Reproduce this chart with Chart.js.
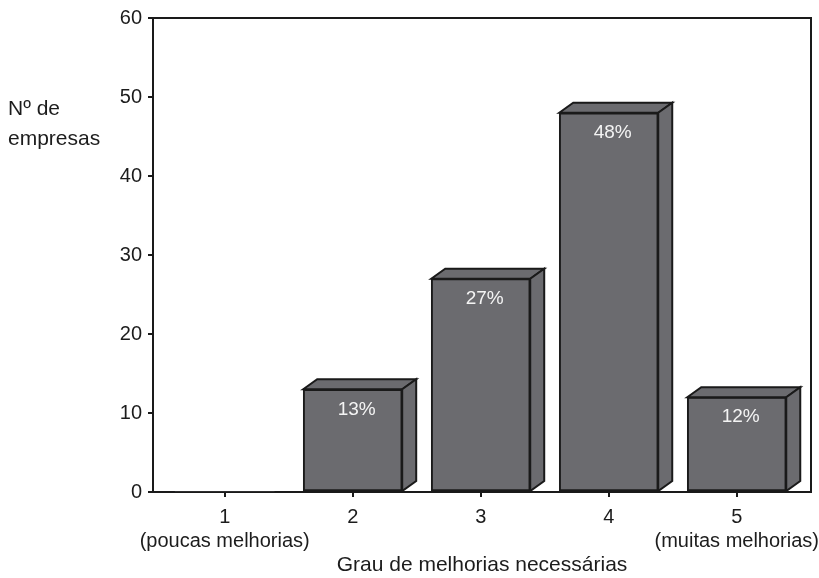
<!DOCTYPE html>
<html>
<head>
<meta charset="utf-8">
<script src="https://cdn.jsdelivr.net/npm/chart.js@4/dist/chart.umd.min.js"></script>
<style>
  html, body { margin: 0; padding: 0; background: #fff; }
  canvas { display: block; }
</style>
</head>
<body>
<canvas id="c" width="819" height="578"></canvas>
<script>
// Grau de melhorias (1..5) and the number of companies per grade
const categories = [1, 2, 3, 4, 5];
const tickLabels = [['1', '(poucas melhorias)'], '2', '3', '4', ['5', '(muitas melhorias)']];
const companies = [0, 13, 27, 48, 12];
const yTicks = [0, 10, 20, 30, 40, 50, 60];
const yTitle = ['Nº de', 'empresas'];
const xTitle = 'Grau de melhorias necessárias';

const FONT = '"Liberation Sans", Arial, Helvetica, sans-serif';
const INK = '#1c1c1c';
const FACE = '#6b6b6f';
const EDGE = '#1a1a1a';
const DEPTH = { dx: 14, dy: 10 };

const total = companies.reduce((a, b) => a + b, 0);

Chart.defaults.font.family = FONT;
Chart.defaults.color = INK;

// Draws the frame, the 3D top/side faces of each bar, percentage labels and axis titles
const boxPlugin = {
  id: 'box3d',
  beforeDatasetsDraw(chart) {
    const { ctx, chartArea: a } = chart;
    ctx.save();
    ctx.strokeStyle = EDGE;
    ctx.lineWidth = 2;
    ctx.beginPath();
    ctx.moveTo(a.left, a.top);
    ctx.lineTo(a.right, a.top);
    ctx.lineTo(a.right, a.bottom);
    ctx.stroke();
    ctx.restore();
  },
  afterDatasetsDraw(chart) {
    const ctx = chart.ctx;
    const meta = chart.getDatasetMeta(0);
    const { dx, dy } = DEPTH;
    meta.data.forEach((el, i) => {
      const v = companies[i];
      if (!v) return;
      const p = el.getProps(['x', 'y', 'base', 'width'], true);
      const l = p.x - p.width / 2, r = p.x + p.width / 2, t = p.y, b = p.base;
      ctx.save();
      ctx.fillStyle = FACE;
      ctx.strokeStyle = EDGE;
      ctx.lineWidth = 2;
      ctx.lineJoin = 'miter';
      // top face
      ctx.beginPath();
      ctx.moveTo(l, t);
      ctx.lineTo(l + dx, t - dy);
      ctx.lineTo(r + dx, t - dy);
      ctx.lineTo(r, t);
      ctx.closePath();
      ctx.fill();
      ctx.stroke();
      // side face
      ctx.beginPath();
      ctx.moveTo(r, t);
      ctx.lineTo(r + dx, t - dy);
      ctx.lineTo(r + dx, b - dy);
      ctx.lineTo(r, b);
      ctx.closePath();
      ctx.fill();
      ctx.stroke();
      // percentage label
      ctx.fillStyle = '#f4f4f4';
      ctx.font = '19px ' + FONT;
      ctx.textAlign = 'center';
      ctx.textBaseline = 'middle';
      ctx.fillText(Math.round(v / total * 100) + '%', p.x + 4, t + 20);
      ctx.restore();
    });
  },
  afterDraw(chart) {
    const { ctx, chartArea: a } = chart;
    ctx.save();
    ctx.fillStyle = INK;
    ctx.font = '21px ' + FONT;
    ctx.textAlign = 'left';
    ctx.textBaseline = 'alphabetic';
    ctx.fillText(yTitle[0], 8, a.top + 97);
    ctx.fillText(yTitle[1], 8, a.top + 127);
    ctx.textAlign = 'center';
    ctx.textBaseline = 'middle';
    ctx.fillText(xTitle, (a.left + a.right) / 2, a.bottom + 73);
    ctx.restore();
  }
};

new Chart(document.getElementById('c'), {
  type: 'bar',
  data: {
    datasets: [{
      data: companies.map((v, i) => ({ x: categories[i], y: v })),
      backgroundColor: FACE,
      borderColor: EDGE,
      borderWidth: (c) => (c.raw && c.raw.y ? 2 : 0),
      borderSkipped: false,
      barThickness: 99
    }]
  },
  options: {
    responsive: false,
    animation: false,
    layout: { padding: { top: 15, right: 8, left: 0, bottom: 0 } },
    plugins: { legend: { display: false }, tooltip: { enabled: false } },
    scales: {
      x: {
        type: 'linear',
        min: 0.44,
        max: 5.58,
        offset: false,
        afterBuildTicks: (s) => { s.ticks = categories.map((c) => ({ value: c })); },
        afterFit: (s) => { s.height = 86; s.paddingLeft = 0; s.paddingRight = 0; },
        grid: { offset: false, drawOnChartArea: false, drawTicks: true, tickLength: 5, color: EDGE, lineWidth: 2 },
        border: { display: true, color: EDGE, width: 2 },
        ticks: {
          padding: 8,
          maxRotation: 0,
          autoSkip: false,
          font: { size: 20, lineHeight: 1.2 },
          color: INK,
          callback: (val) => tickLabels[categories.indexOf(val)]
        }
      },
      y: {
        min: 0,
        max: 60,
        afterBuildTicks: (s) => { s.ticks = yTicks.map((v) => ({ value: v })); },
        afterFit: (s) => { s.width = 153; },
        grid: { drawOnChartArea: false, drawTicks: true, tickLength: 5, color: EDGE, lineWidth: 2 },
        border: { display: true, color: EDGE, width: 2 },
        ticks: { padding: 6, font: { size: 20 }, color: INK }
      }
    }
  },
  plugins: [boxPlugin]
});
</script>
</body>
</html>
